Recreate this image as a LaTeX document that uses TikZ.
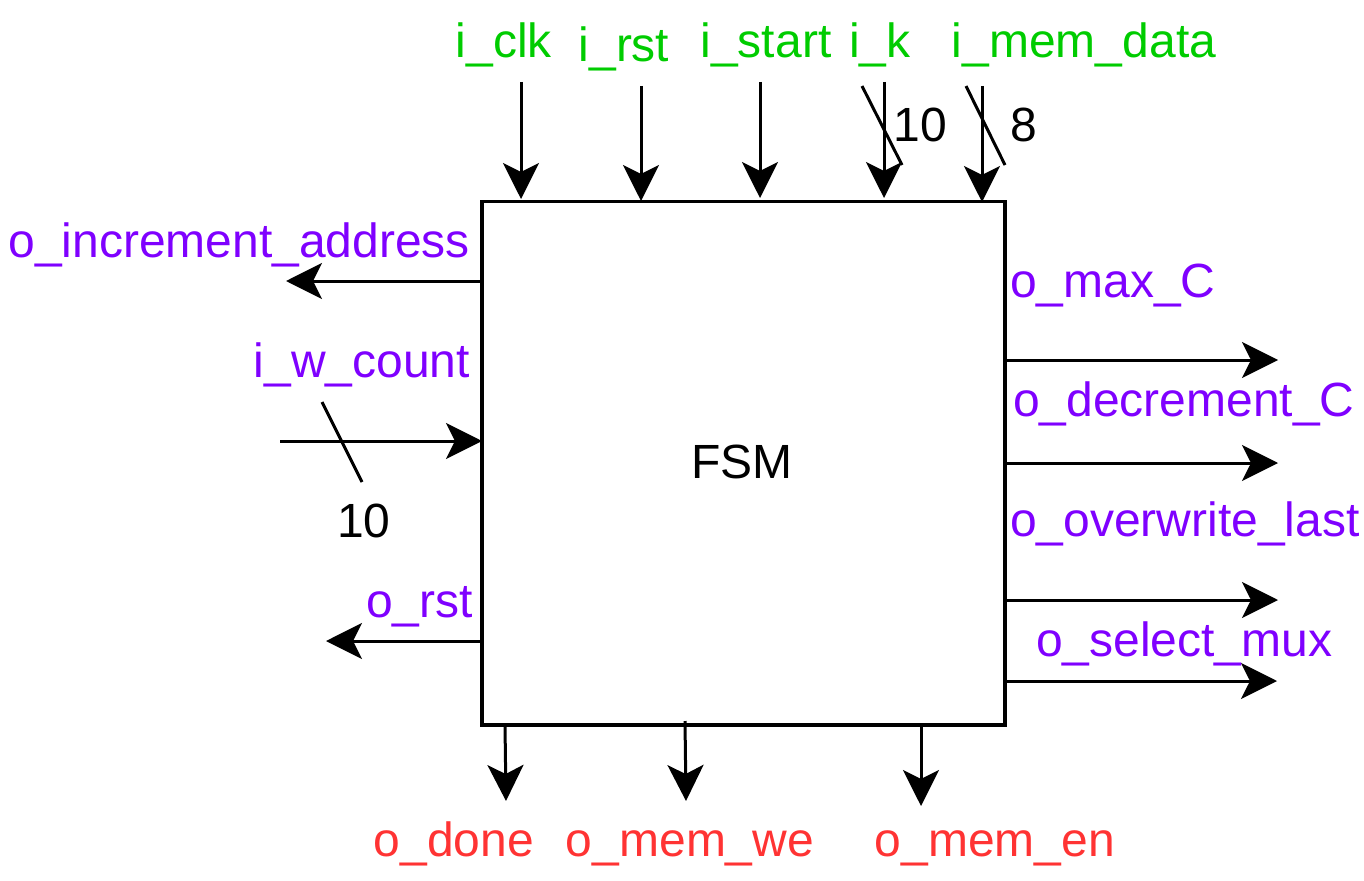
\documentclass[tikz,border=0pt]{standalone}
\usepackage{fontspec}
\setmainfont{Liberation Sans}
\usetikzlibrary{arrows.meta}
\definecolor{ingreen}{HTML}{00CC00}
\definecolor{outpurple}{HTML}{7F00FF}
\definecolor{outred}{HTML}{FF3333}
\begin{document}
\begin{tikzpicture}[x=1pt,y=-1pt,
  every node/.style={inner sep=0pt, outer sep=0pt, font=\fontsize{48}{52}\selectfont},
  sig/.style={line width=3pt, -{Stealth[length=36pt,width=36pt,inset=9pt]}},
  bus/.style={line width=3pt},
  lblg/.style={text=ingreen},
  lblp/.style={text=outpurple},
  lblr/.style={text=outred}]
\useasboundingbox (0,0) rectangle (1364,880);
% main box
\draw[line width=3.6pt] (482,201.5) rectangle (1005,725);
\node[anchor=base] (fsm) at (742,478) {FSM};
% top inputs
\coordinate (clk0) at (521,82);   \coordinate (clk1) at (521,199);
\coordinate (rst0) at (641,86);   \coordinate (rst1) at (641,201);
\coordinate (st0) at (760,82);    \coordinate (st1) at (760,198);
\coordinate (k0) at (884,82);     \coordinate (k1) at (884,198);
\coordinate (md0) at (982,86);    \coordinate (md1) at (982,202);
\draw[sig] (clk0) -- (clk1);
\draw[sig] (rst0) -- (rst1);
\draw[sig] (st0) -- (st1);
\draw[sig] (k0) -- (k1);
\draw[sig] (md0) -- (md1);
\coordinate (ks0) at (862,86); \coordinate (ks1) at (902,165);
\coordinate (ms0) at (966,86); \coordinate (ms1) at (1005,165);
\draw[bus] (ks0) -- (ks1);
\draw[bus] (ms0) -- (ms1);
\node[anchor=base, lblg] (lclk) at (504,58) {i\_clk};
\node[anchor=base, lblg] (lrst) at (624,62) {i\_rst};
\node[anchor=base, lblg] (lst) at (766,58) {i\_start};
\node[anchor=base, lblg] (lk) at (880,58) {i\_k};
\node[anchor=base, lblg] (lmd) at (1084,58) {i\_mem\_data};
\node[anchor=base] (n10a) at (920,141) {10};
\node[anchor=base] (n8) at (1024,141) {8};
% left side
\coordinate (ia0) at (482,281); \coordinate (ia1) at (286,281);
\draw[sig] (ia0) -- (ia1);
\node[anchor=base east, lblp] (lia) at (470,257) {o\_increment\_address};
\coordinate (wc0) at (280,441); \coordinate (wc1) at (482,441);
\draw[sig] (wc0) -- (wc1);
\coordinate (ws0) at (322,402); \coordinate (ws1) at (362,482);
\draw[bus] (ws0) -- (ws1);
\node[anchor=base east, lblp] (lwc) at (470,377) {i\_w\_count};
\node[anchor=base] (n10b) at (364,537) {10};
\coordinate (or0) at (482,641); \coordinate (or1) at (326,641);
\draw[sig] (or0) -- (or1);
\node[anchor=base east, lblp] (lor) at (473,617) {o\_rst};
% right side
\coordinate (mc0) at (1005,360); \coordinate (mc1) at (1278,360);
\coordinate (dc0) at (1005,463); \coordinate (dc1) at (1278,463);
\coordinate (ow0) at (1005,600); \coordinate (ow1) at (1278,600);
\coordinate (sm0) at (1005,681); \coordinate (sm1) at (1277,681);
\draw[sig] (mc0) -- (mc1);
\draw[sig] (dc0) -- (dc1);
\draw[sig] (ow0) -- (ow1);
\draw[sig] (sm0) -- (sm1);
\node[anchor=base west, lblp] (lmc) at (1010,297) {o\_max\_C};
\node[anchor=base west, lblp] (ldc) at (1013,416) {o\_decrement\_C};
\node[anchor=base west, lblp] (low) at (1010,536) {o\_overwrite\_last};
\node[anchor=base west, lblp] (lsm) at (1036,656) {o\_select\_mux};
% bottom
\coordinate (dn0) at (505,725); \coordinate (dn1) at (506,801);
\coordinate (we0) at (685,721); \coordinate (we1) at (686,801);
\coordinate (en0) at (921,725); \coordinate (en1) at (921,806);
\draw[sig] (dn0) -- (dn1);
\draw[sig] (we0) -- (we1);
\draw[sig] (en0) -- (en1);
\node[anchor=base, lblr] (ldn) at (454,856) {o\_done};
\node[anchor=base, lblr] (lwe) at (690,856) {o\_mem\_we};
\node[anchor=base, lblr] (len) at (995,856) {o\_mem\_en};
\end{tikzpicture}
\end{document}
